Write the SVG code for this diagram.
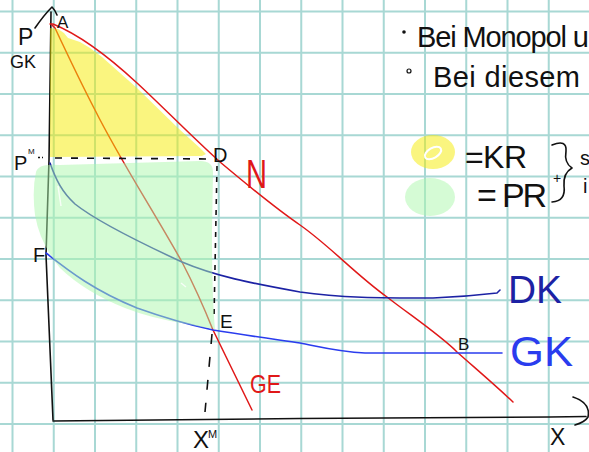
<svg xmlns="http://www.w3.org/2000/svg" width="589" height="452" viewBox="0 0 589 452">
<defs>
<style>
.grid{fill:none;stroke:#a8d8d4;stroke-width:2}
.ink{fill:none;stroke:#111;stroke-width:1.6;stroke-linecap:round;stroke-linejoin:round}
.red{fill:none;stroke:#e01818;stroke-width:1.5;stroke-linecap:round;stroke-linejoin:round}
.dk{fill:none;stroke:#1c22a4;stroke-width:1.6;stroke-linecap:round;stroke-linejoin:round}
.gk{fill:none;stroke:#2a3cee;stroke-width:1.6;stroke-linecap:round;stroke-linejoin:round}
.dash{fill:none;stroke:#111;stroke-width:1.6;stroke-linecap:butt}
.t{font-family:"Liberation Sans",Arial,sans-serif;fill:#111}
.tr{font-family:"Liberation Sans",Arial,sans-serif;fill:#e01818}
.tdk{font-family:"Liberation Sans",Arial,sans-serif;fill:#1c22a4}
.tgk{font-family:"Liberation Sans",Arial,sans-serif;fill:#2a3cee}
.yel{fill:#f5ec00;opacity:0.5}
.grn{fill:#abf7ab;opacity:0.5}
</style>
</defs>
<rect width="589" height="452" fill="#fff"/>
<g id="grid">
<path class="grid" d="M12.5,0V452M53.75,0V452M95,0V452M136.25,0V452M177.5,0V452M218.75,0V452M260,0V452M301.25,0V452M342.5,0V452M383.75,0V452M425,0V452M466.25,0V452M507.5,0V452M548.75,0V452M0,11.5H589M0,52.75H589M0,94H589M0,135.25H589M0,176.5H589M0,217.75H589M0,259H589M0,300.25H589M0,341.5H589M0,382.75H589M0,424H589"/>
</g>
<g id="axes">
<path class="ink" d="M35,28 Q44,15 52,7 Q55,10 57,15"/>
<path class="ink" d="M51,12 L49,160 L46,255 L53,420"/>
<path class="ink" d="M53,421 L300,418.5 L550,417 L586,416.5"/>
<path class="ink" d="M573,397 Q591,403 588,417 Q585,422 575,425"/>
</g>
<g id="connectors">
<path id="N-line" class="red" d="M50,24 L53,24 C80,35 110,58 137,83 C160,104 190,135 220,162 C245,183 275,208 300,225 C330,246 355,274 387,297 C410,315 440,335 457,352 C475,368 495,385 513,402"/>
<path id="GE-line" class="red" d="M52,25 L55,28 C70,60 82,85 95,110 C120,160 150,205 182,262 C195,287 205,310 213,330 C225,355 240,385 252,410"/>
<path id="DK-line" class="dk" d="M50,163 C56,180 62,192 75,204 C95,220 130,238 182,262 C215,276 250,283 300,292 C340,298 380,298 433,298 C460,297 480,295 497,293 L500,290"/>
<path id="GK-line" class="gk" d="M46,253 C70,272 95,291 137,308 C165,318 190,325 213,330 C250,336 280,340 300,343 C325,348 340,352 365,353 L502,353"/>
<path class="dash" d="M38,157.5H40M42,157.5H43"/>
<path class="dash" stroke-dasharray="7 9" d="M55,158 L217,159"/>
<path class="dash" stroke-dasharray="5 6" d="M217,166 L214,318"/>
<path class="dash" stroke-dasharray="10 13" d="M212,334 L205,412"/>
</g>
<g id="highlights">
<path class="yel" d="M50,28 L58,29 L64,33 L68,38 L80,42 L90,48 L102,57 L137,88 L178,128 L200,148 L206,154 L202,156 L50,157 Z"/>
<path class="grn" d="M36,172 Q38,163 60,165 L200,161 Q213,161 213,172 L212,230 Q212,300 215,329 Q200,327 187,324 Q150,318 125,308 Q85,292 60,268 Q40,244 35,215 Q32,190 36,172 Z"/>
<path d="M58,186 L61,206 M181,283 L186,287" stroke="#fff" stroke-width="1.5" opacity="0.8"/>
</g>
<g id="labels">
<text class="t" x="18" y="45" font-size="23">P</text>
<text class="t" x="10" y="68" font-size="18">GK</text>
<text class="t" x="57" y="28" font-size="17">A</text>
<text class="t" x="14" y="170" font-size="20">P</text>
<text class="t" x="28" y="154" font-size="8">M</text>
<text class="t" x="213" y="162" font-size="20">D</text>
<text class="tr" x="246" y="188" font-size="40" textLength="21" lengthAdjust="spacingAndGlyphs">N</text>
<text class="t" x="33" y="262" font-size="20">F</text>
<text class="t" x="220" y="328" font-size="19">E</text>
<text class="tr" x="250" y="393" font-size="25" textLength="31" lengthAdjust="spacingAndGlyphs">GE</text>
<text class="t" x="193" y="448" font-size="24">X</text>
<text class="t" x="208" y="438" font-size="11">M</text>
<text class="t" x="550" y="445" font-size="23">X</text>
<text class="t" x="458" y="350" font-size="17">B</text>
<text class="tdk" x="508" y="303" font-size="38" textLength="54" lengthAdjust="spacingAndGlyphs">DK</text>
<text class="tgk" x="510" y="366" font-size="42" textLength="63" lengthAdjust="spacingAndGlyphs">GK</text>
</g>
<g id="notes">
<circle cx="404" cy="32" r="1.8" fill="#111"/>
<text class="t" x="417" y="47" font-size="29" textLength="172">Bei Monopol u</text>
<circle cx="409" cy="71" r="2" fill="none" stroke="#111" stroke-width="1.2"/>
<text class="t" x="433" y="87" font-size="29" textLength="147">Bei diesem</text>
<ellipse cx="433" cy="152" rx="22" ry="17" class="yel"/>
<ellipse cx="433" cy="153" rx="9" ry="5" transform="rotate(-30 433 153)" fill="none" stroke="#fff" stroke-width="2"/>
<text class="t" x="465" y="168" font-size="32" textLength="62">=KR</text>
<ellipse cx="430" cy="197" rx="25" ry="19" class="grn"/>
<text class="t" x="477" y="207" font-size="34" textLength="70">= PR</text>
<path class="ink" d="M552,145 Q567,139 566,151 Q564,163 572,168 Q563,173 564,186 Q566,201 552,202"/>
<text class="t" x="553" y="183" font-size="14">+</text>
<text class="t" x="580" y="165" font-size="20">s</text>
<text class="t" x="583" y="193" font-size="20">i</text>
</g>
</svg>
